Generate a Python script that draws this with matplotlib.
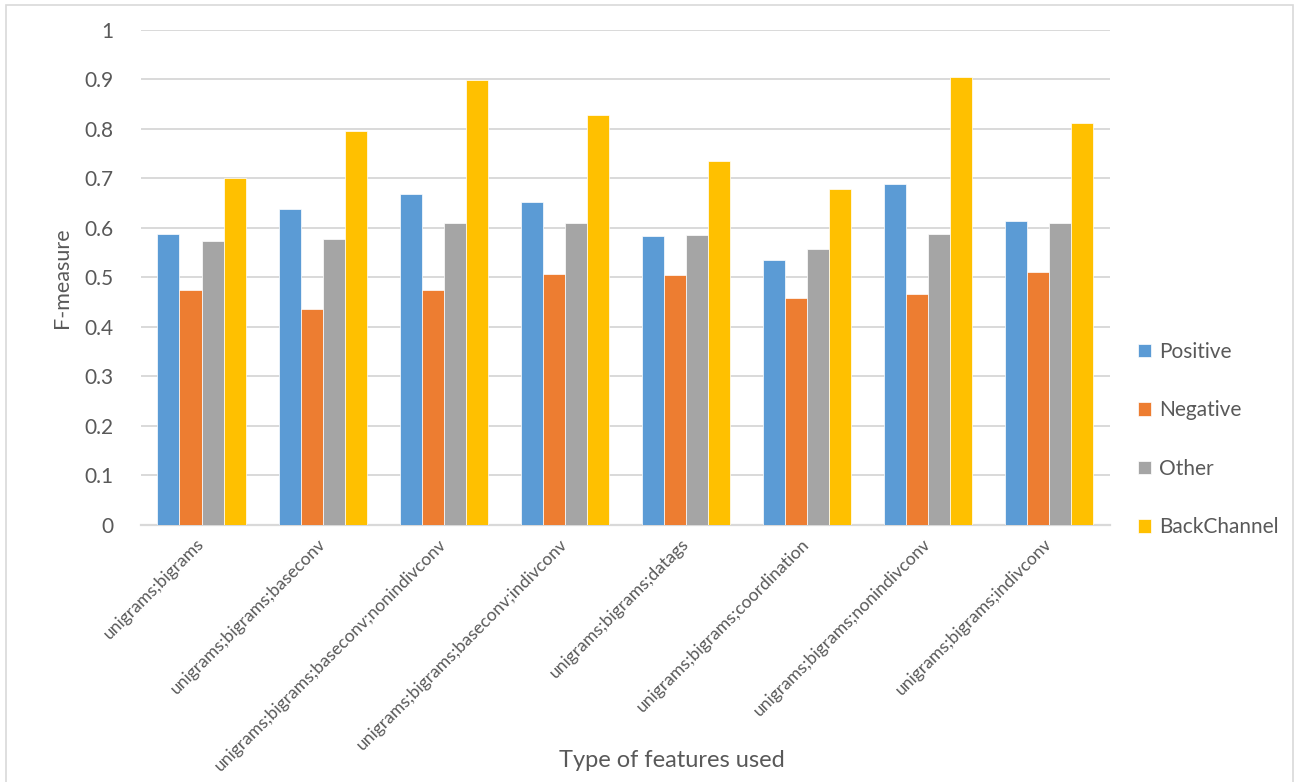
import matplotlib

matplotlib.use("Agg")

import matplotlib.pyplot as plt
import numpy as np
from matplotlib.patches import Rectangle

FEATURES = [
    "unigrams;bigrams",
    "unigrams;bigrams;baseconv",
    "unigrams;bigrams;baseconv;nonindivconv",
    "unigrams;bigrams;baseconv;indivconv",
    "unigrams;bigrams;datags",
    "unigrams;bigrams;coordination",
    "unigrams;bigrams;nonindivconv",
    "unigrams;bigrams;indivconv",
]
POSITIVE = [0.588, 0.638, 0.668, 0.652, 0.584, 0.536, 0.689, 0.613]
NEGATIVE = [0.474, 0.436, 0.474, 0.507, 0.505, 0.459, 0.466, 0.510]
OTHER = [0.573, 0.578, 0.609, 0.609, 0.586, 0.557, 0.588, 0.609]
BACKCHANNEL = [0.700, 0.795, 0.898, 0.828, 0.735, 0.679, 0.906, 0.812]

SERIES = [
    ("Positive", POSITIVE, "#5B9BD5"),
    ("Negative", NEGATIVE, "#ED7D31"),
    ("Other", OTHER, "#A5A5A5"),
    ("BackChannel", BACKCHANNEL, "#FFC000"),
]

TEXT = "#595959"
GRID = "#D9D9D9"

plt.rcParams["font.family"] = ["Lato", "DejaVu Sans"]

fig = plt.figure(figsize=(12.99, 7.82), dpi=100)
ax = fig.add_axes([0.1085, 0.329, 0.746, 0.6326])

x = np.arange(len(FEATURES))
width = 1 / 5.5
for i, (name, values, color) in enumerate(SERIES):
    ax.bar(x + (i - 1.5) * width, values, width, color=color, label=name,
           edgecolor="white", linewidth=0.5, zorder=3)

ax.set_xlim(-0.5, len(FEATURES) - 0.5)
ax.set_ylim(0, 1)
ax.set_yticks(np.arange(0, 1.01, 0.1))
ax.set_yticklabels(["0"] + [f"{v:.1f}" for v in np.arange(0.1, 0.95, 0.1)] + ["1"])
ax.set_xticks(x)
ax.set_xticklabels(FEATURES, rotation=45, ha="right", va="center",
                   rotation_mode="anchor", fontsize=12.6, color=TEXT)
ax.tick_params(axis="y", length=0, pad=20, labelsize=15, labelcolor=TEXT)
ax.tick_params(axis="x", length=0, pad=12)

ax.grid(axis="y", color=GRID, linewidth=1.4, zorder=0)
for side in ["top", "right", "left"]:
    ax.spines[side].set_visible(False)
ax.spines["bottom"].set_color(GRID)
ax.spines["bottom"].set_linewidth(1.6)

ax.set_ylabel("F-measure", fontsize=15.5, color=TEXT, labelpad=9)
fig.text(0.517, 0.027, "Type of features used", fontsize=17, color=TEXT,
         ha="center", va="center")

fig.legend(loc="center left", bbox_to_anchor=(0.862, 0.438), frameon=False,
           fontsize=15, labelcolor=TEXT, handlelength=0.62, handleheight=0.62,
           handletextpad=0.35, labelspacing=1.85)

fig.add_artist(Rectangle((6 / 1299, -0.05), 1287 / 1299, 1.05 - 5 / 782,
                         transform=fig.transFigure, fill=False,
                         edgecolor=GRID, linewidth=1.2))

fig.savefig("out.png", dpi=100, facecolor="white")
